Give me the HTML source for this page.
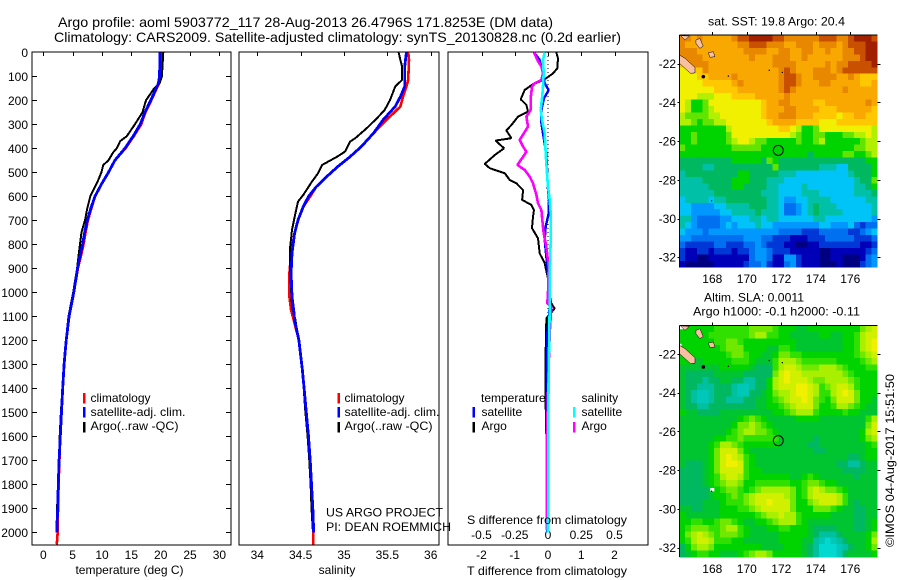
<!DOCTYPE html>
<html lang="en">
<head>
<meta charset="utf-8">
<title>Argo profile 5903772_117</title>
<style>
html,body{margin:0;padding:0;background:#fff;}
svg{display:block;}
text{font-family:"Liberation Sans",sans-serif;font-size:12px;fill:#000;}
</style>
</head>
<body>
<svg id="fig" xmlns="http://www.w3.org/2000/svg" width="900" height="580" viewBox="0 0 900 580">
  <rect x="0" y="0" width="900" height="580" fill="#fff"/>
  <text x="58" y="27" font-size="14" style="font-size:14px" textLength="495" lengthAdjust="spacingAndGlyphs">Argo profile: aoml 5903772_117 28-Aug-2013 26.4796S 171.8253E (DM data)</text>
  <text x="54" y="42" font-size="14" style="font-size:14px" textLength="567" lengthAdjust="spacingAndGlyphs">Climatology: CARS2009. Satellite-adjusted climatology: synTS_20130828.nc (0.2d earlier)</text>

  <g id="panel-temp"></g>
  <g id="panel-sal"></g>
  <g id="panel-diff"></g>
  <g id="map-sst"></g>
  <g id="map-sla"></g>

  <text x="129.5" y="574" text-anchor="middle">temperature (deg C)</text>
  <text x="337" y="574" text-anchor="middle">salinity</text>
  <text x="467" y="575" textLength="160" lengthAdjust="spacingAndGlyphs">T difference from climatology</text>
  <text x="467" y="524" textLength="160" lengthAdjust="spacingAndGlyphs">S difference from climatology</text>

  <g id="legends"></g>
  <text x="708" y="25.5" textLength="137" lengthAdjust="spacingAndGlyphs">sat. SST: 19.8 Argo: 20.4</text>
  <text x="704" y="301.5" textLength="100" lengthAdjust="spacingAndGlyphs">Altim. SLA: 0.0011</text>
  <text x="693" y="315.5" textLength="167" lengthAdjust="spacingAndGlyphs">Argo h1000: -0.1 h2000: -0.11</text>
  <text transform="translate(894,547) rotate(-90)" textLength="173" lengthAdjust="spacingAndGlyphs">©IMOS 04-Aug-2017 15:51:50</text>
</svg>
<script>
// ---------- depth axis ----------
const depthTicks = [0,100,200,300,400,500,600,700,800,900,1000,1100,1200,1300,1400,1500,1600,1700,1800,1900,2000];

// ---------- temperature panel ----------
const tempTicks = [0,5,10,15,20,25,30];
const tempClimDepth = [0,100,130,200,250,300,350,400,450,500,550,600,650,700,750,800,850,900,1000,1100,1200,1300,1400,1500,1600,1700,1800,1900,2000,2050];
const tempClim = [20.2,20.1,19.7,18.4,17.4,16.7,15.4,14.0,12.2,11.1,9.9,8.8,8.2,7.6,7.2,6.85,6.4,5.9,5.2,4.4,3.9,3.55,3.3,3.1,2.9,2.75,2.6,2.5,2.45,2.3];
const tempSatDepth = [0,100,130,200,250,300,350,400,450,500,550,600,650,700,750,800,850,900,1000,1100,1200,1300,1400,1500,1600,1700,1800,1900,2000];
const tempSat = [19.9,19.8,19.6,18.3,17.3,16.5,15.3,13.9,12.2,11.1,9.9,8.8,8.1,7.5,7.05,6.7,6.25,5.85,5.2,4.4,3.9,3.55,3.3,3.1,2.9,2.7,2.55,2.45,2.3];
const tempArgoDepth = [0,100,130,150,200,250,300,350,370,400,417,450,470,500,530,560,600,650,700,750,800,850,900,1000,1100,1200,1300,1400,1500,1600,1700,1800,1900,1990];
const tempArgo = [20.45,20.2,19.8,18.9,17.5,16.9,15.6,14.2,13.1,12.5,11.9,11.1,10.2,9.9,9.4,8.8,8.0,7.5,7.1,6.5,6.25,6.0,5.75,5.1,4.3,3.85,3.5,3.25,3.0,2.8,2.65,2.5,2.35,2.25];

// ---------- salinity panel ----------
const salTicks = [34,34.5,35,35.5,36];
const salTickLabels = ['34','34.5','35','35.5','36'];
const salClimDepth = [0,32,115,143,185,226,282,337,393,435,476,518,560,601,643,699,754,837,921,1018,1074,1115,1200,1324,1400,1500,1600,1700,1800,1900,2000,2050];
const salClim = [35.74,35.75,35.74,35.72,35.68,35.65,35.49,35.34,35.20,35.07,34.93,34.80,34.68,34.61,34.53,34.47,34.43,34.39,34.37,34.37,34.39,34.42,34.48,34.52,34.54,34.565,34.59,34.61,34.62,34.635,34.645,34.645];
const salSatDepth = [0,60,143,185,226,282,337,393,435,476,518,560,601,643,699,754,837,921,1018,1074,1115,1200,1324,1400,1500,1600,1700,1800,1900,2000];
const salSat = [35.72,35.70,35.70,35.65,35.59,35.45,35.34,35.20,35.07,34.93,34.80,34.68,34.59,34.53,34.47,34.43,34.40,34.39,34.40,34.42,34.43,34.48,34.52,34.54,34.565,34.59,34.61,34.625,34.64,34.65];
const salArgoDepth = [0,32,60,115,143,199,240,275,317,358,372,414,435,469,504,539,594,622,671,740,810,921,1060,1115,1200,1324,1400,1500,1600,1700,1800,1900,1990];
const salArgo = [35.63,35.65,35.67,35.67,35.59,35.53,35.47,35.38,35.26,35.13,35.07,35.01,34.92,34.75,34.70,34.63,34.53,34.47,34.44,34.40,34.38,34.38,34.40,34.44,34.475,34.515,34.535,34.555,34.58,34.60,34.615,34.625,34.64];

// ---------- difference panel ----------
const diffTempTicks = [-2,-1,0,1,2];
const diffTempLabels = ['-2','-1','0','1','2'];
const diffSalTicks = [-0.5,-0.25,0,0.25,0.5];
const diffSalLabels = ['-0.5','-0.25','0','0.25','0.5'];
const dTempArgoDepth = [0,25,67,88,108,122,133,157,196,219,247,268,303,326,358,368,400,428,465,483,504,532,546,574,615,636,657,685,733,775,838,879,942,990,1046,1067,1088,1108,1122,1240,1393,1600,1990];
const dTempArgo = [0.25,0.30,0.28,0.15,-0.05,-0.25,-0.45,-0.70,-0.82,-0.65,-0.60,-0.90,-1.10,-1.25,-1.10,-1.58,-1.32,-1.60,-1.90,-1.75,-1.30,-1.15,-0.95,-0.75,-0.78,-0.50,-0.42,-0.45,-0.48,-0.30,-0.25,-0.10,0,0.02,0.10,0.20,0.08,-0.05,-0.05,-0.07,-0.08,-0.05,-0.05];
const dTempSatDepth = [0,32,88,129,157,192,240,296,365,421,504,574,615,671,726,782,851,949,1060,1171,1310,1500,1700,2000];
const dTempSat = [-0.42,-0.25,-0.15,-0.10,0.02,-0.12,-0.20,-0.20,-0.12,-0.05,-0.02,0,0.03,0.02,-0.07,-0.10,-0.05,0.02,0.05,-0.02,-0.04,-0.05,-0.04,-0.03];
const dSalArgoDepth = [0,32,60,88,115,129,143,192,240,268,310,365,393,414,435,469,490,518,546,594,629,657,699,754,810,893,1004,1046,1060,1171,1310,1588,1990];
const dSalArgo = [-0.105,-0.08,-0.05,-0.0375,-0.05,-0.10,-0.12,-0.13,-0.13,-0.1625,-0.15,-0.2125,-0.1875,-0.1625,-0.1875,-0.23,-0.175,-0.1375,-0.1125,-0.0875,-0.075,-0.05,-0.0425,-0.0325,-0.0125,0.005,0,-0.005,0.025,0.0125,0.005,-0.0075,-0.01];
const dSalSatDepth = [0,32,88,143,192,240,282,337,421,504,560,615,671,782,921,1060,1171,1310,1500,1700,2000];
const dSalSat = [-0.025,-0.0375,-0.0325,-0.0375,-0.045,-0.055,-0.045,-0.025,-0.0175,-0.0075,0,0.0125,0.02,0.02,0.0125,0.0125,0.01,0.005,0.0025,0.002,0];

// ---------- maps ----------
const lonTicks = [168,170,172,174,176];
const latTicks = [22,24,26,28,30,32];
const argoLon = [171.8253];
const argoLat = [26.4796];
const sstLevels = [
[14,14,13,14,13,13,13,13,13,14,15,15,16,16,16,16,15,15,14,14,14,14,14,14,15,15,15,14,14,15,16,16,16,15],
[14,13,13,13,13,13,13,13,13,13,14,14,15,15,15,14,14,14,13,13,14,14,14,13,14,14,14,13,14,15,15,15,16,16],
[14,14,14,13,13,13,13,13,13,13,13,14,14,14,14,13,13,14,14,13,13,14,14,13,13,14,13,13,14,14,15,15,16,16],
[14,14,14,14,13,13,13,13,13,13,13,13,14,13,13,13,14,14,14,13,13,14,13,13,13,13,13,13,14,14,14,15,16,16],
[12,14,14,14,14,13,13,13,13,13,13,13,13,13,13,13,14,14,14,14,13,13,13,13,13,14,13,14,14,15,15,15,15,16],
[11,11,12,12,14,13,13,13,13,13,13,13,13,13,13,13,13,14,15,14,13,13,13,14,14,14,13,14,15,15,15,15,15,15],
[11,11,11,12,12,13,13,13,13,14,13,13,13,13,13,13,13,14,15,15,14,13,13,14,14,14,14,13,13,14,13,12,12,12],
[11,11,11,11,12,12,12,12,12,13,14,13,13,13,13,13,13,14,15,15,14,13,13,13,14,14,13,13,13,13,13,12,12,13],
[11,11,11,11,11,11,12,12,12,12,13,13,13,13,13,13,13,14,15,14,13,13,13,13,13,13,13,13,14,13,13,13,13,13],
[11,11,11,10,10,10,11,11,11,12,12,12,12,13,13,13,13,13,14,13,13,13,13,13,13,13,13,13,13,13,13,13,13,13],
[11,10,8,8,9,11,11,11,11,11,11,11,11,11,12,13,13,14,14,13,13,13,13,12,12,13,13,13,13,13,13,13,14,13],
[11,10,8,8,9,10,11,11,11,11,11,11,11,11,12,13,13,13,14,14,13,13,13,13,12,12,12,13,13,13,13,13,13,12],
[10,9,9,9,9,10,10,11,11,11,11,11,11,11,12,13,13,14,14,14,13,13,13,12,12,12,12,11,12,12,13,13,12,12],
[10,10,9,8,9,9,10,10,11,11,11,11,11,11,11,12,13,13,13,13,12,12,12,12,11,11,11,12,12,12,12,12,12,12],
[8,8,8,8,8,8,8,8,10,11,11,11,11,11,11,11,11,12,12,11,10,8,8,9,11,11,11,11,11,11,11,11,11,10],
[8,8,9,8,8,8,8,8,9,11,11,11,11,11,11,11,11,11,11,10,9,8,8,9,9,8,8,8,9,9,10,10,11,10],
[8,8,9,8,8,8,8,8,9,10,11,11,10,9,9,8,8,8,8,8,9,8,8,9,10,8,8,8,8,8,8,9,10,10],
[9,8,8,8,8,8,8,8,8,9,9,9,9,9,8,8,8,8,8,8,8,8,8,8,8,8,8,8,8,8,9,9,10,10],
[8,8,8,8,8,8,8,8,8,8,8,8,8,8,8,8,8,8,8,8,8,8,7,8,8,8,8,8,9,9,8,8,9,10],
[7,7,7,7,7,7,7,7,7,8,8,8,8,8,7,9,8,7,7,7,7,7,7,7,7,7,7,7,7,7,7,7,8,8],
[7,7,7,7,6,6,7,7,7,7,7,7,7,7,7,7,9,7,7,7,7,7,7,7,6,6,6,5,5,7,7,7,7,8],
[6,7,7,7,7,7,7,7,7,7,8,8,7,7,7,7,7,6,6,6,5,5,5,5,5,5,5,5,5,6,7,7,7,8],
[6,6,6,6,7,7,7,7,7,8,8,8,7,7,7,6,6,6,5,5,5,5,5,5,5,5,5,5,5,5,6,7,7,9],
[6,6,6,6,6,7,7,7,7,8,8,7,7,7,7,6,6,5,5,5,5,6,5,5,5,5,5,5,5,5,6,6,7,8],
[6,6,6,6,6,6,7,7,7,7,7,7,7,7,6,6,6,5,5,5,5,6,6,6,5,5,5,5,5,5,6,6,6,7],
[5,6,6,6,6,5,6,6,7,7,7,7,7,7,7,6,6,5,4,4,5,5,6,6,6,6,5,5,5,5,5,5,6,6],
[5,5,4,4,4,4,5,5,6,6,6,6,7,7,7,6,6,5,3,3,4,5,6,7,6,6,6,5,5,5,5,5,5,6],
[5,5,4,4,4,4,4,5,5,6,6,6,6,7,6,6,6,5,3,3,4,5,6,7,6,6,6,6,5,5,5,5,5,6],
[6,6,4,3,3,3,3,4,4,5,5,5,6,6,5,6,6,5,5,5,5,5,5,6,6,5,5,5,5,5,5,5,5,4],
[6,5,4,3,3,3,3,4,5,4,5,5,5,6,5,5,4,4,4,4,4,4,4,4,5,5,4,4,4,5,3,2,3,3],
[5,4,4,4,3,4,4,4,4,4,4,4,4,4,4,4,4,3,3,3,3,2,2,2,3,3,3,3,3,2,2,3,4,5],
[4,4,3,3,3,3,3,3,3,3,3,4,4,4,3,3,2,2,2,1,1,1,2,2,2,3,3,3,3,3,2,2,2,3],
[3,2,2,2,2,2,3,3,2,2,2,3,3,4,3,2,2,2,1,1,0,0,1,1,2,2,2,2,2,2,2,1,1,2],
[2,1,1,2,2,1,2,2,2,1,2,2,3,4,4,3,2,2,2,1,1,1,1,1,0,0,1,1,1,1,1,1,2,3],
[2,1,1,0,0,1,1,1,1,1,1,1,3,4,4,3,1,1,4,4,2,1,1,1,0,0,1,1,0,0,0,1,3,4],
[1,0,0,0,0,0,1,1,1,1,1,2,3,3,4,2,1,1,3,4,2,1,1,1,0,0,0,1,0,0,0,2,3,4]
];
const slaLevels = [
[5,5,5,5,5,5,6,6,6,6,6,6,7,7,7,7,6,5,5,5,4,4,5,5,5,5,5,5,5,5,5,7,8,9],
[5,5,5,5,5,6,6,6,6,6,6,6,7,8,8,6,6,5,5,4,4,4,4,4,5,5,4,4,5,5,6,8,9,9],
[5,5,5,5,5,5,6,6,7,7,6,5,5,5,5,5,5,5,5,5,4,4,4,4,4,4,4,4,5,5,6,8,9,10],
[5,5,5,5,5,5,5,6,7,7,7,5,5,5,5,4,4,6,6,5,4,4,4,4,4,4,4,4,5,5,6,8,9,10],
[5,5,5,5,5,5,5,5,6,7,7,6,5,5,4,4,5,7,7,6,6,5,5,5,5,5,5,5,5,5,6,7,8,9],
[5,5,4,4,5,5,5,5,5,6,6,6,5,4,4,4,6,8,8,8,7,6,6,6,6,6,6,5,5,5,5,6,7,8],
[4,4,4,4,4,4,4,5,5,5,5,5,4,3,3,3,6,8,9,9,8,7,7,7,8,8,8,7,6,5,5,5,6,6],
[4,3,3,3,3,3,4,4,4,4,4,3,3,3,3,3,7,9,10,9,9,8,8,8,8,8,8,8,7,6,5,5,5,5],
[4,3,3,3,2,3,3,4,4,3,3,2,2,3,3,5,8,9,10,9,9,9,8,7,7,8,8,8,8,7,6,5,5,5],
[4,3,3,2,2,2,3,3,3,2,1,1,2,3,3,5,8,9,9,9,10,10,9,8,6,7,8,9,9,8,6,5,5,5],
[4,3,2,1,1,2,3,3,3,2,1,1,3,3,4,5,7,8,8,9,10,10,9,8,6,6,8,9,10,9,7,5,5,5],
[4,3,2,1,1,2,3,3,2,2,2,3,3,4,4,5,6,7,8,9,9,10,9,7,6,5,7,9,9,9,7,5,5,4],
[4,3,3,2,2,3,3,3,3,3,3,3,3,4,4,5,5,6,7,8,9,9,9,7,5,5,6,8,8,7,6,5,4,4],
[5,4,4,3,3,3,3,4,4,4,4,4,4,4,4,4,5,5,6,7,8,8,8,6,5,5,5,5,6,5,5,4,4,4],
[4,4,4,4,4,4,4,4,4,4,5,6,7,6,5,4,4,4,4,4,5,5,5,5,4,4,4,4,4,4,4,4,6,8],
[4,4,4,4,4,4,4,4,4,5,7,7,8,7,6,5,4,4,4,4,4,4,4,4,4,4,4,4,4,4,4,4,7,9],
[4,4,4,4,4,4,4,4,5,6,7,8,8,7,7,6,5,4,4,4,4,4,4,4,4,4,4,4,4,4,4,5,8,9],
[4,4,4,4,4,4,5,5,6,6,7,6,6,6,6,6,6,4,4,4,4,4,4,3,4,4,4,4,4,4,4,5,7,8],
[4,4,4,4,4,5,6,8,8,7,6,5,5,5,5,5,5,4,4,4,4,4,3,3,4,4,4,4,4,4,4,4,5,6],
[4,4,4,4,4,5,7,9,9,9,7,5,4,4,4,4,4,4,4,4,4,4,4,3,3,4,4,4,4,4,4,4,5,5],
[4,4,4,4,4,5,7,9,10,9,8,6,5,4,4,4,4,4,4,4,4,4,4,4,4,4,4,4,4,3,3,4,5,5],
[4,3,3,3,4,5,7,9,10,10,9,6,5,4,4,4,4,4,4,4,4,4,4,4,4,4,4,3,3,2,2,3,4,4],
[3,3,3,3,4,5,7,9,9,9,9,6,5,5,4,4,4,4,4,4,4,4,4,4,4,4,4,4,3,3,3,3,4,4],
[3,3,3,3,4,5,6,8,9,9,8,6,5,5,5,5,5,5,5,4,4,5,6,5,4,4,4,4,4,4,3,4,4,4],
[3,3,3,3,4,5,6,7,8,8,7,5,5,6,6,6,6,6,6,5,5,6,7,7,6,5,5,4,4,4,4,4,4,4],
[3,3,3,3,3,4,5,6,7,7,6,5,6,7,8,8,8,8,8,7,5,6,8,9,8,7,7,6,5,4,4,4,4,4],
[3,3,3,3,3,4,5,5,6,7,6,7,8,9,9,9,9,9,8,7,5,6,8,9,9,9,9,8,6,4,4,4,4,4],
[3,3,3,3,4,4,4,5,6,6,6,7,8,9,9,10,9,9,9,7,5,5,7,8,9,9,9,8,6,4,3,4,4,4],
[4,4,3,3,4,4,4,5,5,5,6,6,7,8,9,9,9,9,9,7,5,5,5,7,7,7,6,5,4,4,3,3,4,4],
[5,4,4,4,4,4,4,5,5,5,5,5,5,6,7,8,8,9,8,8,6,5,5,5,5,5,4,4,4,4,3,3,4,4],
[5,5,6,6,5,5,6,7,7,6,5,4,4,5,5,6,7,8,8,8,6,5,4,4,4,4,4,4,4,4,3,3,4,5],
[5,6,7,7,7,6,6,7,8,8,6,5,4,4,4,5,5,6,6,5,5,5,4,3,3,3,3,4,4,4,3,3,4,5],
[5,7,8,9,8,7,6,7,7,7,6,5,4,4,4,4,4,5,5,5,5,5,4,3,2,2,2,3,4,4,4,4,5,7],
[5,6,8,9,9,8,6,6,6,5,5,4,4,4,4,4,4,5,5,5,5,4,4,2,1,0,1,2,3,4,4,4,5,8],
[3,5,7,8,8,7,5,5,5,5,5,5,5,5,4,4,4,4,5,5,5,4,3,2,0,0,0,1,2,3,4,4,5,7],
[3,4,5,6,6,5,5,4,4,4,5,6,7,8,8,7,5,5,5,5,5,4,3,2,0,0,0,1,3,4,4,4,4,5]
];
const caledoniaLon = [166.09,166.42,167.0,167.0,166.74,166.09];
const caledoniaLat = [21.55,21.72,22.19,22.47,22.5,21.98];
const lifouLon = [167.05,167.28,167.47,167.28,167.05];
const lifouLat = [20.78,20.69,21.09,21.21,20.95];
const mareLon = [167.77,168.06,168.15,167.86];
const mareLat = [21.43,21.38,21.64,21.67];
const belepLon = [166.16,166.42,166.67];
const belepLat = [20.55,20.78,20.57];
const speckLon = [167.48,168.93,171.3,172.06,167.96];
const speckLat = [22.67,22.64,22.34,22.45,29.09];
const slaGapLon = [166.2,166.1,168.0];
const slaGapLat = [20.62,21.55,29.0];

// ---------- colour tables (styles, not data) ----------
const sstColor = l => ['#000080','#0000b8','#0038d8','#0070f0','#0098ff','#00c4f8','#00c0a8','#00b860','#00d400','#60e400','#b0f000','#f0f000','#ffc800','#f8a800','#e88800','#c85000','#a02000'][Math.max(0,Math.min(16,Math.round(l)))];
const slaColor = l => ['#00d8d0','#00c8b8','#00c0a0','#00b860','#00c430','#00d400','#30e000','#70e800','#a8f000','#d0f000','#f0f000'][Math.max(0,Math.min(10,Math.round(l)))];

const NS = 'http://www.w3.org/2000/svg';
function make(tag, parent, attrs, txt) {
  const el = document.createElementNS(NS, tag);
  for (const k in attrs) el.setAttribute(k, attrs[k]);
  if (txt !== undefined) el.textContent = txt;
  parent.appendChild(el);
  return el;
}
const yDepth = d => 52.3 + d * 0.24;
const xTemp = v => 43.3 + v * 5.87;
const xSal = v => 257.3 + (v - 34) * 86.7;
const xDiffT = v => 548 + v * 33.25;
const xDiffS = v => 548 + v * 133;

function profile(parent, depths, vals, xf, color, w, name) {
  const pts = depths.map((d, i) => xf(vals[i]).toFixed(1) + ',' + yDepth(d).toFixed(1)).join(' ');
  const el = make('polyline', parent, {points: pts, fill: 'none', stroke: color, 'stroke-width': w, 'stroke-linejoin': 'bevel', 'shape-rendering': 'crispEdges'});
  
  
}
function panelFrame(parent, x0, x1, name) {
  const el = make('rect', parent, {x: x0, y: 52, width: x1 - x0, height: 493, fill: '#fff', stroke: '#000', 'stroke-width': 1.2, 'shape-rendering': 'crispEdges'});
  
  
}
function line(parent, x1, y1, x2, y2, name) {
  const el = make('line', parent, {x1, y1, x2, y2, stroke: '#000', 'stroke-width': 1, 'shape-rendering': 'crispEdges'});
  
  
  return el;
}
function label(parent, x, y, anchor, s, name) {
  const el = make('text', parent, {x, y, 'text-anchor': anchor}, s);
  
  
  return el;
}

// Temperature panel
const gT = document.getElementById('panel-temp');
panelFrame(gT, 32, 231, 'temperature-plot-frame');
depthTicks.forEach(d => {
  const y = Math.round(yDepth(d)) + 0.5;
  if (d > 0) {
    line(gT, 32, y, 37, y, 'depth-tick-left');
    line(gT, 226, y, 231, y, 'depth-tick-right');
  }
  label(gT, 28, yDepth(d) + 4.5, 'end', String(d), 'depth-tick-label');
});
tempTicks.forEach(t => {
  const x = Math.round(xTemp(t)) + 0.5;
  line(gT, x, 52, x, 56, 'temperature-tick');
  label(gT, xTemp(t), 559, 'middle', String(t), 'temperature-tick-label');
});
profile(gT, tempClimDepth, tempClim, xTemp, '#f00', 2.6, 'temperature-climatology-line');
profile(gT, tempArgoDepth, tempArgo, xTemp, '#000', 2, 'temperature-argo-line');
profile(gT, tempSatDepth, tempSat, xTemp, '#00f', 2.8, 'temperature-satellite-line');

// Salinity panel
const gS = document.getElementById('panel-sal');
panelFrame(gS, 239, 439, 'salinity-plot-frame');
salTicks.forEach((t, i) => {
  const x = Math.round(xSal(t)) + 0.5;
  line(gS, x, 52, x, 56, 'salinity-tick');
  label(gS, xSal(t), 559, 'middle', salTickLabels[i], 'salinity-tick-label');
});
profile(gS, salClimDepth, salClim, xSal, '#f00', 2.6, 'salinity-climatology-line');
profile(gS, salArgoDepth, salArgo, xSal, '#000', 2, 'salinity-argo-line');
profile(gS, salSatDepth, salSat, xSal, '#00f', 2.8, 'salinity-satellite-line');

// Difference panel
const gD = document.getElementById('panel-diff');
panelFrame(gD, 448, 648, 'difference-plot-frame');
const zeroLine = make('line', gD, {x1: xDiffT(0), y1: 52, x2: xDiffT(0), y2: yDepth(1100), stroke: '#000', 'stroke-width': 1, 'stroke-dasharray': '1 3'});


diffTempTicks.forEach((t, i) => {
  const x = Math.round(xDiffT(t)) + 0.5;
  line(gD, x, 52, x, 56, 'difference-tick');
  label(gD, xDiffT(t), 559, 'middle', diffTempLabels[i], 'difference-t-tick-label');
});
diffSalTicks.forEach((t, i) => {
  label(gD, xDiffS(t), 539, 'middle', diffSalLabels[i], 'difference-s-tick-label');
});
profile(gD, dTempArgoDepth, dTempArgo, xDiffT, '#000', 2, 'difference-t-argo-line');
profile(gD, dTempSatDepth, dTempSat, xDiffT, '#00f', 2.4, 'difference-t-satellite-line');
profile(gD, dSalArgoDepth, dSalArgo, xDiffS, '#f0f', 2.6, 'difference-s-argo-line');
profile(gD, dSalSatDepth, dSalSat, xDiffS, '#0ff', 2.6, 'difference-s-satellite-line');
</script>
<script>
// Legends and overlapping text are drawn after the panels so they stay on top
const fig = document.getElementById('fig');
const legends = document.getElementById('legends');
const legendColors = ['#f00','#00f','#000'];
const legendRowsY = [393,407,422];
function swatch(x, y, color, name) {
  const el = make('rect', legends, {x: x, y: y, width: 2.5, height: 10.5, fill: color});
  
  
}
swatch(83, 393, '#f00', 'legend-climatology-swatch');
swatch(83, 407, '#00f', 'legend-satellite-swatch');
swatch(83, 422, '#000', 'legend-argo-swatch');
swatch(337.5, 393, '#f00', 'legend-climatology-swatch');
swatch(337.5, 407, '#00f', 'legend-satellite-swatch');
swatch(337.5, 422, '#000', 'legend-argo-swatch');
swatch(472.5, 407, '#00f', 'legend-t-satellite-swatch');
swatch(472.5, 422, '#000', 'legend-t-argo-swatch');
swatch(573, 407, '#0ff', 'legend-s-satellite-swatch');
swatch(573, 422, '#f0f', 'legend-s-argo-swatch');
function legendText(x, y, s, len, name) {
  const a = {x: x, y: y};
  if (len) { a.textLength = len; a.lengthAdjust = 'spacingAndGlyphs'; }
  const el = make('text', legends, a, s);
  
  
}
legendText(90.5, 402, 'climatology', 0, 'legend-climatology-label');
legendText(90.5, 416, 'satellite-adj. clim.', 95, 'legend-satellite-label');
legendText(90.5, 430, 'Argo(..raw -QC)', 88, 'legend-argo-label');
legendText(344.5, 402, 'climatology', 0, 'legend-climatology-label');
legendText(344.5, 416, 'satellite-adj. clim.', 95, 'legend-satellite-label');
legendText(344.5, 430, 'Argo(..raw -QC)', 88, 'legend-argo-label');
legendText(481, 402, 'temperature', 0, 'legend-temperature-heading');
legendText(481.5, 416, 'satellite', 0, 'legend-t-satellite-label');
legendText(481.5, 430, 'Argo', 0, 'legend-t-argo-label');
legendText(581.5, 402, 'salinity', 0, 'legend-salinity-heading');
legendText(581.5, 416, 'satellite', 0, 'legend-s-satellite-label');
legendText(581.5, 430, 'Argo', 0, 'legend-s-argo-label');
legendText(326, 516.5, 'US ARGO PROJECT', 117, 'project-label');
legendText(326, 531, 'PI: DEAN ROEMMICH', 125, 'pi-label');

// Maps
function drawMap(groupId, levels, colorFn, top, bottom, lat22y, labelY, prefix, gapLon, gapLat) {
  const g = document.getElementById(groupId);
  const left = 679.3, right = 877.3;
  const xLon = lon => 712.3 + (lon - 168) * 17.25;
  const yLat = lat => lat22y + (lat - 22) * 19.35;
  const cw = (right - left) / levels[0].length;
  const ch = (bottom - top) / levels.length;
  levels.forEach((row, r) => {
    row.forEach((v, c) => {
      const cell = make('rect', g, {x: (left + c * cw).toFixed(2), y: (top + r * ch).toFixed(2), width: (cw + 0.4).toFixed(2), height: (ch + 0.4).toFixed(2), fill: colorFn(v), 'shape-rendering': 'crispEdges'});
      
      
    });
  });
  gapLon.forEach((lon, i) => {
    const gap = make('rect', g, {x: xLon(lon) - 2, y: yLat(gapLat[i]) - 1.5, width: 4, height: 3.5, fill: '#fff'});
    
    
  });
  [[caledoniaLon, caledoniaLat], [lifouLon, lifouLat], [mareLon, mareLat], [belepLon, belepLat]].forEach(p => {
    const pts = p[0].map((lon, i) => xLon(lon).toFixed(1) + ',' + yLat(p[1][i]).toFixed(1)).join(' ');
    const land = make('polygon', g, {points: pts, fill: '#f8c0a0', stroke: '#000', 'stroke-width': 0.5});
    
    
  });
  speckLon.forEach((lon, i) => {
    const sp = make('circle', g, {cx: xLon(lon), cy: yLat(speckLat[i]), r: i === 0 ? 1.8 : 0.7, fill: '#000'});
    
    
  });
  const circ = make('circle', g, {cx: xLon(argoLon[0]), cy: yLat(argoLat[0]), r: 5, fill: 'none', stroke: '#000', 'stroke-width': 1});
  
  
  lonTicks.forEach(lon => {
    const x = Math.round(xLon(lon)) + 0.5;
    line(g, x, top - 3, x, top, prefix + '-lon-tick');
    label(g, xLon(lon), labelY, 'middle', String(lon), prefix + '-lon-label');
  });
  latTicks.forEach(lat => {
    const y = Math.round(yLat(lat)) + 0.5;
    line(g, right, y, right + 3, y, prefix + '-lat-tick-right');
    line(g, left - 2, y, left, y, prefix + '-lat-tick-left');
    label(g, 676, yLat(lat) + 4.5, 'end', String(-lat), prefix + '-lat-label');
  });
  line(g, left, top, right, top, prefix + '-top-edge');
  line(g, left, top, left, bottom, prefix + '-left-edge');
}
drawMap('map-sst', sstLevels, sstColor, 35, 267.3, 63.7, 283, 'sst', [], []);
drawMap('map-sla', slaLevels, slaColor, 325.7, 557, 354, 573, 'sla', slaGapLon, slaGapLat);
</script>
</body>
</html>
